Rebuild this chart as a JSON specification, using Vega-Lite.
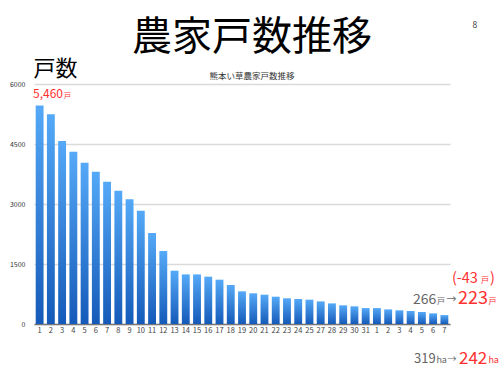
{
  "$schema": "https://vega.github.io/schema/vega-lite/v6.json",
  "width": 416,
  "height": 240,
  "autosize": {"type": "none"},
  "padding": {"left": 34, "top": 84, "right": 53, "bottom": 52},
  "background": "white",
  "title": {
    "text": "農家戸数推移",
    "subtitle": "熊本い草農家戸数推移",
    "anchor": "middle",
    "frame": "group",
    "dx": 10,
    "offset": -60,
    "fontSize": 40,
    "font": "Noto Sans CJK JP",
    "fontWeight": "normal",
    "color": "#000000",
    "subtitleFontSize": 8.5,
    "subtitleFont": "Noto Sans CJK JP",
    "subtitleColor": "#333333",
    "subtitlePadding": 14
  },
  "config": {"view": {"stroke": null}, "font": "Noto Sans CJK JP"},
  "layer": [
    {
      "data": {
        "values": [
          {"year": "H1", "farms": 5460}, {"year": "H2", "farms": 5243}, {"year": "H3", "farms": 4575},
          {"year": "H4", "farms": 4308}, {"year": "H5", "farms": 4033}, {"year": "H6", "farms": 3808},
          {"year": "H7", "farms": 3558}, {"year": "H8", "farms": 3333}, {"year": "H9", "farms": 3117},
          {"year": "H10", "farms": 2833}, {"year": "H11", "farms": 2275}, {"year": "H12", "farms": 1825},
          {"year": "H13", "farms": 1333}, {"year": "H14", "farms": 1240}, {"year": "H15", "farms": 1240},
          {"year": "H16", "farms": 1183}, {"year": "H17", "farms": 1108}, {"year": "H18", "farms": 975},
          {"year": "H19", "farms": 817}, {"year": "H20", "farms": 767}, {"year": "H21", "farms": 733},
          {"year": "H22", "farms": 683}, {"year": "H23", "farms": 642}, {"year": "H24", "farms": 625},
          {"year": "H25", "farms": 608}, {"year": "H27", "farms": 565}, {"year": "H28", "farms": 515},
          {"year": "H29", "farms": 467}, {"year": "H30", "farms": 442}, {"year": "H31", "farms": 398},
          {"year": "R1", "farms": 398}, {"year": "R2", "farms": 365}, {"year": "R3", "farms": 342},
          {"year": "R4", "farms": 325}, {"year": "R5", "farms": 300}, {"year": "R6", "farms": 266},
          {"year": "R7", "farms": 223}
        ]
      },
      "mark": {
        "type": "bar",
        "color": {
          "gradient": "linear",
          "x1": 0, "y1": 0, "x2": 0, "y2": 1,
          "stops": [
            {"offset": 0, "color": "#55a9f7"},
            {"offset": 1, "color": "#155ab9"}
          ]
        }
      },
      "encoding": {
        "x": {
          "field": "year",
          "type": "nominal",
          "sort": null,
          "scale": {
            "domain": ["H1","H2","H3","H4","H5","H6","H7","H8","H9","H10","H11","H12","H13","H14","H15","H16","H17","H18","H19","H20","H21","H22","H23","H24","H25","H27","H28","H29","H30","H31","R1","R2","R3","R4","R5","R6","R7"],
            "paddingInner": 0.3,
            "paddingOuter": 0.15
          },
          "axis": {
            "title": null,
            "labelExpr": "substring(datum.value, 1)",
            "labelAngle": 0,
            "labelFontSize": 7.5,
            "labelColor": "#444444",
            "labelPadding": 2,
            "ticks": false,
            "domainColor": "#777777",
            "domainWidth": 1.5,
            "grid": false
          }
        },
        "y": {
          "field": "farms",
          "type": "quantitative",
          "scale": {"domain": [0, 6000], "nice": false},
          "axis": {
            "values": [0, 1500, 3000, 4500, 6000],
            "format": "d",
            "title": "戸数",
            "titleAngle": 0,
            "titleAlign": "left",
            "titleBaseline": "alphabetic",
            "titleX": -1,
            "titleY": -9,
            "titleFontSize": 22,
            "titleFontWeight": "normal",
            "titleColor": "#000000",
            "labelFontSize": 7,
            "labelColor": "#333333",
            "labelPadding": 9,
            "ticks": false,
            "domain": false,
            "gridColor": "#dadada",
            "gridWidth": 1.5
          }
        }
      }
    },
    {
      "data": {"values": [{"k": "H1", "t": "5,460"}]},
      "mark": {"type": "text", "align": "left", "baseline": "alphabetic", "dx": -6.6, "dy": -7.6, "fontSize": 12, "color": "#ff3030"},
      "encoding": {"x": {"field": "k", "type": "nominal"}, "y": {"datum": 5460}, "text": {"field": "t"}}
    },
    {
      "data": {"values": [{"k": "H1", "t": "戸"}]},
      "mark": {"type": "text", "align": "left", "baseline": "alphabetic", "dx": 24.5, "dy": -7.6, "fontSize": 7, "color": "#ff3030"},
      "encoding": {"x": {"field": "k", "type": "nominal"}, "y": {"datum": 5460}, "text": {"field": "t"}}
    },
    {
      "data": {"values": [{"k": "R7", "t": "(-43"}]},
      "mark": {"type": "text", "align": "left", "baseline": "alphabetic", "dx": 7.5, "dy": -41, "fontSize": 14.5, "color": "#ff3030"},
      "encoding": {"x": {"field": "k", "type": "nominal"}, "y": {"datum": 0}, "text": {"field": "t"}}
    },
    {
      "data": {"values": [{"k": "R7", "t": "戸"}]},
      "mark": {"type": "text", "align": "left", "baseline": "alphabetic", "dx": 36.5, "dy": -41, "fontSize": 8, "color": "#ff3030"},
      "encoding": {"x": {"field": "k", "type": "nominal"}, "y": {"datum": 0}, "text": {"field": "t"}}
    },
    {
      "data": {"values": [{"k": "R7", "t": ")"}]},
      "mark": {"type": "text", "align": "left", "baseline": "alphabetic", "dx": 45.5, "dy": -41, "fontSize": 14.5, "color": "#ff3030"},
      "encoding": {"x": {"field": "k", "type": "nominal"}, "y": {"datum": 0}, "text": {"field": "t"}}
    },
    {
      "data": {"values": [{"k": "R7", "t": "266"}]},
      "mark": {"type": "text", "align": "left", "baseline": "alphabetic", "dx": -31.4, "dy": -20.5, "fontSize": 14, "color": "#666666"},
      "encoding": {"x": {"field": "k", "type": "nominal"}, "y": {"datum": 0}, "text": {"field": "t"}}
    },
    {
      "data": {"values": [{"k": "R7", "t": "戸"}]},
      "mark": {"type": "text", "align": "left", "baseline": "alphabetic", "dx": -7.4, "dy": -20.5, "fontSize": 8, "color": "#666666"},
      "encoding": {"x": {"field": "k", "type": "nominal"}, "y": {"datum": 0}, "text": {"field": "t"}}
    },
    {
      "data": {"values": [{"k": "R7", "t": "→"}]},
      "mark": {"type": "text", "align": "left", "baseline": "alphabetic", "dx": 2, "dy": -21.5, "fontSize": 10, "color": "#666666"},
      "encoding": {"x": {"field": "k", "type": "nominal"}, "y": {"datum": 0}, "text": {"field": "t"}}
    },
    {
      "data": {"values": [{"k": "R7", "t": "223"}]},
      "mark": {"type": "text", "align": "left", "baseline": "alphabetic", "dx": 13.6, "dy": -20, "fontSize": 18, "color": "#ff3030"},
      "encoding": {"x": {"field": "k", "type": "nominal"}, "y": {"datum": 0}, "text": {"field": "t"}}
    },
    {
      "data": {"values": [{"k": "R7", "t": "戸"}]},
      "mark": {"type": "text", "align": "left", "baseline": "alphabetic", "dx": 44, "dy": -20.5, "fontSize": 8, "color": "#ff3030"},
      "encoding": {"x": {"field": "k", "type": "nominal"}, "y": {"datum": 0}, "text": {"field": "t"}}
    },
    {
      "data": {"values": [{"k": "R7", "t": "319"}]},
      "mark": {"type": "text", "align": "left", "baseline": "alphabetic", "dx": -30.4, "dy": 39, "fontSize": 13, "color": "#666666"},
      "encoding": {"x": {"field": "k", "type": "nominal"}, "y": {"datum": 0}, "text": {"field": "t"}}
    },
    {
      "data": {"values": [{"k": "R7", "t": "ha"}]},
      "mark": {"type": "text", "align": "left", "baseline": "alphabetic", "dx": -8, "dy": 39, "fontSize": 9, "color": "#666666"},
      "encoding": {"x": {"field": "k", "type": "nominal"}, "y": {"datum": 0}, "text": {"field": "t"}}
    },
    {
      "data": {"values": [{"k": "R7", "t": "→"}]},
      "mark": {"type": "text", "align": "left", "baseline": "alphabetic", "dx": 3, "dy": 38, "fontSize": 9, "color": "#666666"},
      "encoding": {"x": {"field": "k", "type": "nominal"}, "y": {"datum": 0}, "text": {"field": "t"}}
    },
    {
      "data": {"values": [{"k": "R7", "t": "242"}]},
      "mark": {"type": "text", "align": "left", "baseline": "alphabetic", "dx": 14.6, "dy": 39.5, "fontSize": 17, "color": "#ff3030"},
      "encoding": {"x": {"field": "k", "type": "nominal"}, "y": {"datum": 0}, "text": {"field": "t"}}
    },
    {
      "data": {"values": [{"k": "R7", "t": "ha"}]},
      "mark": {"type": "text", "align": "left", "baseline": "alphabetic", "dx": 44, "dy": 39, "fontSize": 9, "color": "#ff3030"},
      "encoding": {"x": {"field": "k", "type": "nominal"}, "y": {"datum": 0}, "text": {"field": "t"}}
    },
    {
      "data": {"values": [{"k": "R7", "t": "8"}]},
      "mark": {"type": "text", "align": "center", "baseline": "alphabetic", "dx": 30.6, "dy": -56.5, "fontSize": 8.5, "color": "#333333"},
      "encoding": {"x": {"field": "k", "type": "nominal"}, "y": {"datum": 6000}, "text": {"field": "t"}}
    }
  ]
}
